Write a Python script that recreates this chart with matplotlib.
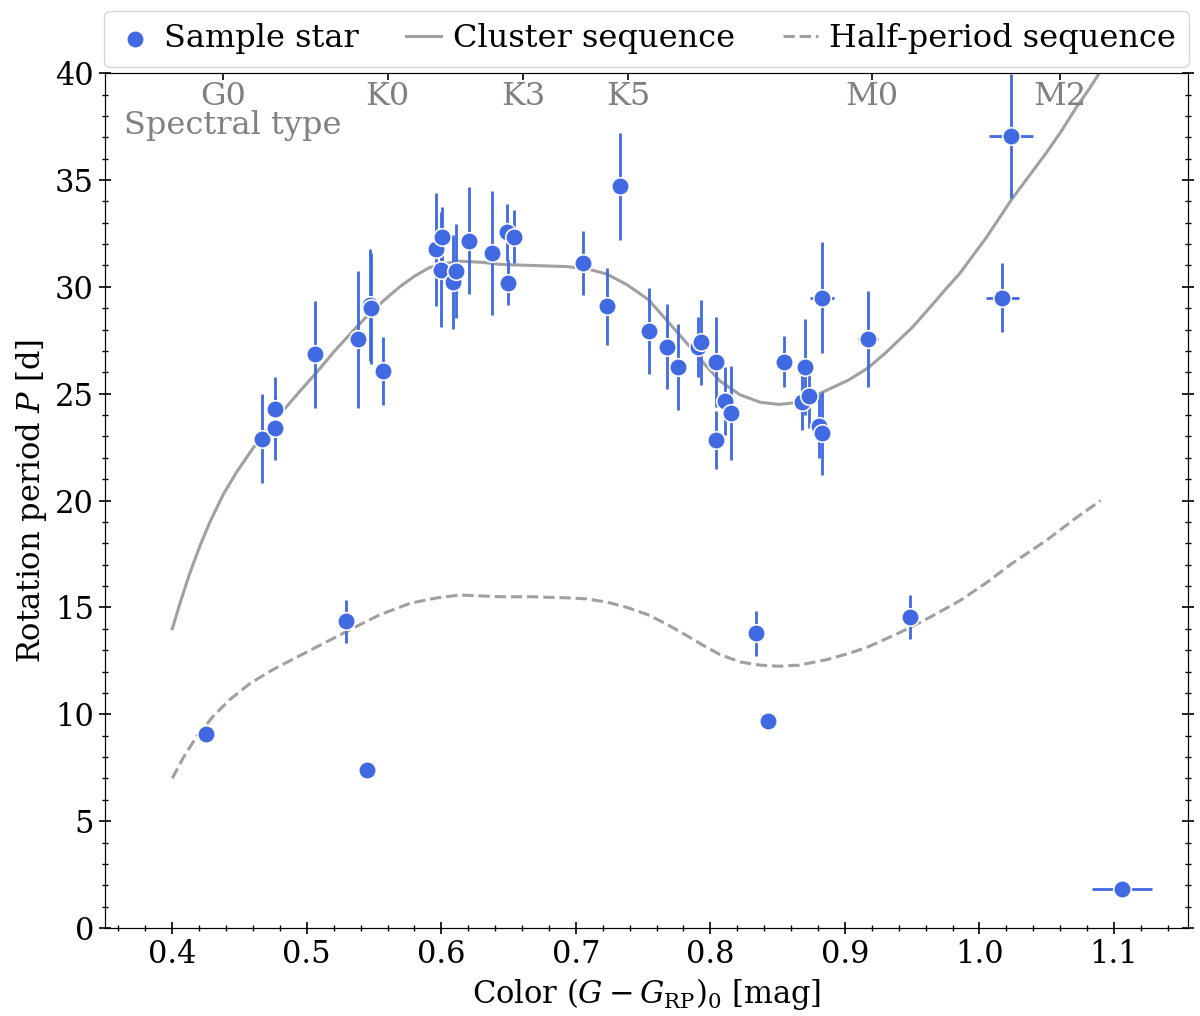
import matplotlib
matplotlib.use('Agg')
import matplotlib.pyplot as plt
from matplotlib.ticker import MultipleLocator
import numpy as np

# --- data ---
star_color = [0.425, 0.467, 0.476, 0.476, 0.506, 0.529, 0.538, 0.545, 0.547, 0.548,
              0.557, 0.596, 0.6007, 0.5997, 0.609, 0.6107, 0.6207, 0.6378, 0.649, 0.654,
              0.6497, 0.705, 0.723, 0.733, 0.754, 0.768, 0.776, 0.791, 0.793, 0.804,
              0.804, 0.811, 0.815, 0.834, 0.843, 0.855, 0.868, 0.870, 0.8735, 0.8805,
              0.8826, 0.883, 0.917, 0.948, 1.017, 1.0236, 1.106]
star_period = [9.08, 22.9, 24.3, 23.4, 26.85, 14.35, 27.55, 7.4, 29.15, 29.0,
               26.05, 31.75, 32.35, 30.8, 30.25, 30.75, 32.15, 31.6, 32.55, 32.35,
               30.2, 31.1, 29.1, 34.7, 27.93, 27.2, 26.26, 27.2, 27.4, 26.5,
               22.85, 24.65, 24.1, 13.8, 9.7, 26.5, 24.6, 26.25, 24.9, 23.5,
               23.15, 29.5, 27.55, 14.55, 29.5, 37.05, 1.83]
period_err = [0.0, 2.1, 1.5, 1.5, 2.5, 1.0, 3.2, 0.0, 2.6, 2.6,
              1.6, 2.65, 1.4, 2.7, 2.2, 2.2, 2.5, 2.9, 1.35, 1.25,
              1.05, 1.5, 1.8, 2.5, 2.0, 2.0, 2.0, 1.4, 2.0, 2.1,
              1.35, 1.6, 2.2, 1.05, 0.0, 1.2, 1.3, 2.25, 1.5, 1.5,
              1.95, 2.6, 2.25, 1.05, 1.6, 2.9, 0.0]
color_err = [0.0] * 41 + [0.009, 0.0074, 0.0, 0.0123, 0.0163, 0.022]

cluster_color = [0.400, 0.406, 0.413, 0.421, 0.428, 0.438, 0.448, 0.460, 0.473, 0.485,
                 0.496, 0.508, 0.520, 0.533, 0.545, 0.557, 0.569, 0.580, 0.591, 0.603,
                 0.614, 0.630, 0.644, 0.668, 0.693, 0.708, 0.723, 0.738, 0.754, 0.768,
                 0.782, 0.794, 0.807, 0.822, 0.837, 0.851, 0.866, 0.876, 0.886, 0.903,
                 0.917, 0.930, 0.940, 0.950, 0.962, 0.975, 0.985, 1.005, 1.024, 1.037,
                 1.050, 1.061, 1.072, 1.082, 1.090]
cluster_seq = [14.0, 15.25, 16.6, 17.95, 19.0, 20.3, 21.35, 22.45, 23.5, 24.4,
               25.2, 26.05, 26.95, 27.85, 28.65, 29.35, 30.0, 30.5, 30.9, 31.1,
               31.2, 31.15, 31.05, 31.0, 30.95, 30.85, 30.6, 30.1, 29.4, 28.4,
               27.4, 26.5, 25.6, 24.95, 24.6, 24.5, 24.6, 24.85, 25.15, 25.65,
               26.2, 26.9, 27.5, 28.1, 28.95, 29.9, 30.6, 32.3, 34.1, 35.2,
               36.3, 37.3, 38.4, 39.3, 40.1]

half_color = [0.400, 0.408, 0.418, 0.431, 0.443, 0.458, 0.475, 0.495, 0.515, 0.535,
              0.554, 0.577, 0.597, 0.614, 0.644, 0.668, 0.693, 0.708, 0.723, 0.738,
              0.754, 0.768, 0.782, 0.794, 0.807, 0.822, 0.837, 0.851, 0.866, 0.886,
              0.903, 0.917, 0.940, 0.962, 0.985, 1.005, 1.024, 1.050, 1.072, 1.090]
half_seq = [7.0, 7.95, 8.95, 9.95, 10.7, 11.45, 12.1, 12.75, 13.4, 14.05,
            14.65, 15.2, 15.45, 15.58, 15.5, 15.5, 15.45, 15.4, 15.25, 15.0,
            14.65, 14.2, 13.7, 13.25, 12.8, 12.45, 12.3, 12.25, 12.3, 12.55,
            12.85, 13.15, 13.8, 14.5, 15.3, 16.15, 17.05, 18.15, 19.2, 20.0]

spec_pos = [0.438, 0.560, 0.661, 0.739, 0.920, 1.060]
spec_labels = ['G0', 'K0', 'K3', 'K5', 'M0', 'M2']

# --- style ---
plt.rcParams['font.family'] = ['DejaVu Serif']
plt.rcParams['mathtext.fontset'] = 'dejavuserif'
FS_TICK = 22
FS_LABEL = 22
FS_LEG = 23
STAR = 'royalblue'
SEQ = '#a0a0a0'

fig = plt.figure(figsize=(12, 10.16), dpi=100)
ax = fig.add_axes([0.0875, 0.0866, 0.9025, 0.8414])

ax.plot(cluster_color, cluster_seq, color=SEQ, lw=2.2, label='Cluster sequence', zorder=2)
ax.plot(half_color, half_seq, color=SEQ, lw=2.2, ls='--', label='Half-period sequence', zorder=2)
ax.errorbar(star_color, star_period, yerr=period_err, xerr=color_err, fmt='none',
            ecolor=STAR, elinewidth=2, capsize=0, zorder=3)
ax.scatter(star_color, star_period, s=160, color=STAR, edgecolor='white',
           linewidth=1.2, label='Sample star', zorder=4)

ax.set_xlim(0.35, 1.155)
ax.set_ylim(0, 40)
ax.xaxis.set_major_locator(MultipleLocator(0.1))
ax.xaxis.set_minor_locator(MultipleLocator(0.02))
ax.yaxis.set_major_locator(MultipleLocator(5))
ax.yaxis.set_minor_locator(MultipleLocator(1))
ax.tick_params(which='both', direction='inout', top=False, right=True, labelsize=FS_TICK)
ax.tick_params(which='major', length=9, width=1.2)
ax.tick_params(which='minor', length=4.5, width=1.0)
ax.set_xlabel(r'Color $(G - G_{\rm RP})_0$ [mag]', fontsize=FS_LABEL)
ax.set_ylabel(r'Rotation period $P$ [d]', fontsize=FS_LABEL)

# spectral types on top
ax_top = ax.twiny()
ax_top.set_xlim(ax.get_xlim())
ax_top.set_xticks(spec_pos)
ax_top.set_xticklabels(spec_labels)
ax_top.tick_params(axis='x', direction='in', length=5, width=1.2, pad=-28,
                   labelsize=FS_LEG, labelcolor='gray')
ax.text(0.018, 0.957, 'Spectral type', transform=ax.transAxes, ha='left', va='top',
        fontsize=FS_LEG, color='gray')

handles, labels = ax.get_legend_handles_labels()
order = [2, 0, 1]
ax.legend([handles[i] for i in order], [labels[i] for i in order],
          loc='lower center', bbox_to_anchor=(0.5, 1.007), borderaxespad=0,
          ncol=3, fontsize=FS_LEG, handlelength=1.1, handletextpad=0.35,
          columnspacing=1.5)

fig.savefig('out.png', dpi=100)
